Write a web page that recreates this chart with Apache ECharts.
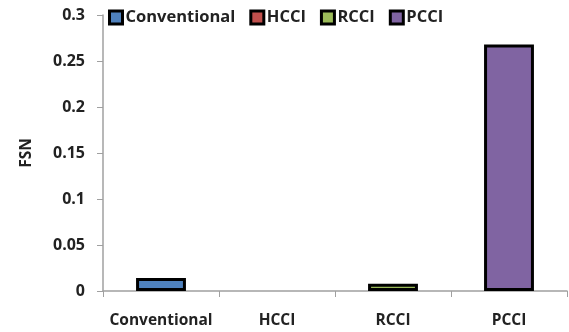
<!DOCTYPE html>
<html><head><meta charset="utf-8">
<script src="https://cdn.jsdelivr.net/npm/echarts@6/dist/echarts.min.js"></script>
<style>html,body{margin:0;padding:0;background:#fff}#c{width:569px;height:332px}</style>
</head><body><div id="c"></div>
<script>
const categories = ['Conventional', 'HCCI', 'RCCI', 'PCCI'];
const seriesNames = ['Conventional', 'HCCI', 'RCCI', 'PCCI'];
const fsnValues = [0.014, 0, 0.008, 0.268];
const colors = ['#4F81BD', '#C0504D', '#9BBB59', '#8064A2'];
const yTicks = [0, 0.05, 0.1, 0.15, 0.2, 0.25, 0.3];

const font = '"Open Sans", sans-serif';
const series = seriesNames.map((name, i) => ({
  name: name,
  type: 'bar',
  stack: 'all',
  barWidth: '43%',
  data: categories.map((c, j) => j === i
    ? { value: fsnValues[i], itemStyle: fsnValues[i] === 0 ? { borderWidth: 0 } : {} }
    : '-'),
  itemStyle: { color: colors[i], borderColor: '#000', borderWidth: 3 }
}));

const chart = echarts.init(document.getElementById('c'));
chart.setOption({
  animation: false,
  grid: { left: 103, right: 2, top: 15, bottom: 41 },
  legend: {
    top: 4, left: 103, itemGap: 14, itemWidth: 13, itemHeight: 13, icon: 'rect',
    textStyle: { fontFamily: font, fontWeight: 'bold', fontSize: 16.5, color: '#222', padding: [0, 0, 0, -2] },
    data: seriesNames.map(n => ({ name: n, itemStyle: { borderWidth: 3 } }))
  },
  xAxis: {
    type: 'category', data: categories,
    axisLine: { lineStyle: { color: '#a0a0a0', width: 1.5 } },
    axisTick: { show: true, length: 6, lineStyle: { color: '#a0a0a0' } },
    axisLabel: { interval: 0, fontFamily: font, fontWeight: 'bold', fontSize: 15.5, color: '#222', margin: 22 }
  },
  yAxis: {
    type: 'value', min: 0, max: yTicks[yTicks.length - 1], interval: 0.05,
    name: 'FSN', nameLocation: 'middle', nameGap: 68, nameRotate: 90,
    nameTextStyle: { fontFamily: font, fontWeight: 'bold', fontSize: 15.5, color: '#222' },
    axisLine: { show: true, lineStyle: { color: '#a0a0a0', width: 1.5 } },
    axisTick: { show: true, length: 6, lineStyle: { color: '#a0a0a0' } },
    splitLine: { show: false },
    axisLabel: { fontFamily: font, fontWeight: 'bold', fontSize: 16, color: '#222', margin: 18,
      formatter: v => String(Math.round(v * 100) / 100) }
  },
  series: series
});
</script></body></html>
